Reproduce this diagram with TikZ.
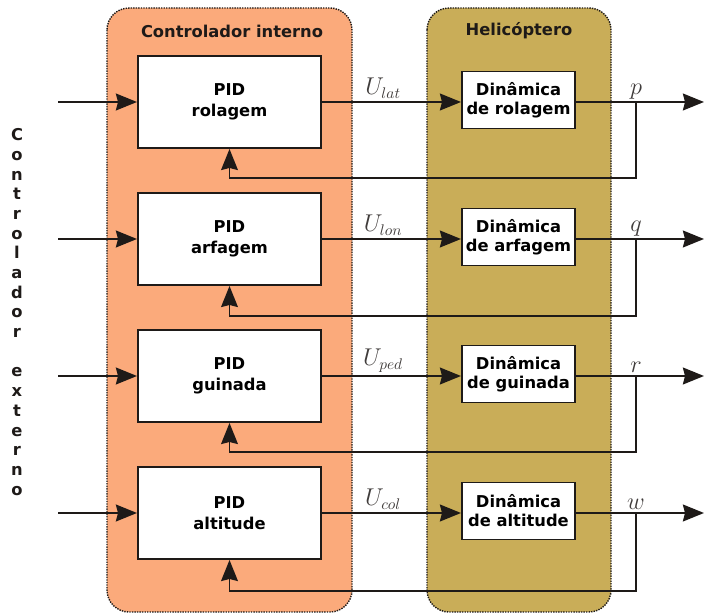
\documentclass[tikz,border=0pt]{standalone}
\usepackage{fontspec}
\setmainfont{DejaVu Sans}
\usetikzlibrary{arrows.meta, positioning}
\definecolor{CtrlOrange}{HTML}{FBAA7B}
\definecolor{HeliOlive}{HTML}{C9AD58}
\definecolor{LineDark}{HTML}{1E1A18}

\tikzset{
    group/.style={draw=LineDark, line width=1pt, dash pattern=on 1pt off 0.8pt, rounded corners=0.55cm},
    grouptitle/.style={font=\bfseries\fontsize{11.6}{13.5}\selectfont, text=LineDark},
    pidbox/.style={draw=LineDark, line width=1.4pt, fill=white, minimum width=4.575cm, minimum height=2.3cm, align=center, font=\bfseries\fontsize{11.6}{14.5}\selectfont},
    dynbox/.style={draw=LineDark, line width=1.4pt, fill=white, minimum width=2.825cm, minimum height=1.425cm, inner sep=1pt, align=center, font=\bfseries\fontsize{11.6}{13.5}\selectfont},
    sig/.style={draw=LineDark, line width=1.4pt, -{Stealth[length=15pt, width=12pt, inset=1.5pt]}},
    fb/.style={draw=LineDark, line width=1pt, -{Stealth[length=15pt, width=12pt, inset=1.5pt]}},
    lbl/.style={font=\fontsize{16}{18}\selectfont, inner sep=2pt, text=LineDark!85}
}

\begin{document}
\begin{tikzpicture}[x=0.025cm, y=-0.025cm]
    \useasboundingbox (0,0) rectangle (704,615);

    % Groups
    \draw[group, fill=CtrlOrange] (107,8) rectangle (352,612);
    \draw[group, fill=HeliOlive] (427,8) rectangle (611,612);
    \node[grouptitle] (tctrl) at (232,31) {Controlador interno};
    \node[grouptitle] (theli) at (519,31) {Helicóptero};

    % Outer controller label
    \node[font=\bfseries\fontsize{11.6}{14}\selectfont, align=center, text=LineDark] (ext) at (17,312)
        {C\\o\\n\\t\\r\\o\\l\\a\\d\\o\\r\\[14pt]e\\x\\t\\e\\r\\n\\o};

    % Row 1
    \node[pidbox] (pid1) at (229.5,102) {PID\\rolagem};
    \node[dynbox] (dyn1) at (518.5,100) {Dinâmica\\de rolagem};
    \coordinate (in1) at (58,102);
    \coordinate (out1) at (704,102);
    \coordinate (br1) at (636,102);
    \coordinate (fb1) at (636,178);
    \draw[sig] (in1) -- (pid1);
    \draw[sig] (pid1) -- node[lbl, above, xshift=-6pt] {$U_{lat}$} (dyn1.west |- pid1);
    \draw[sig] (dyn1.east |- br1) -- (out1);
    \node[lbl, above] (lp) at (br1) {$p$};
    \draw[fb] (br1) -- (fb1) -| (pid1.south);

    % Row 2
    \node[pidbox] (pid2) at (229.5,239) {PID\\arfagem};
    \node[dynbox] (dyn2) at (518.5,237) {Dinâmica\\de arfagem};
    \coordinate (in2) at (58,239);
    \coordinate (out2) at (704,239);
    \coordinate (br2) at (636,239);
    \coordinate (fb2) at (636,316);
    \draw[sig] (in2) -- (pid2);
    \draw[sig] (pid2) -- node[lbl, above, xshift=-6pt] {$U_{lon}$} (dyn2.west |- pid2);
    \draw[sig] (dyn2.east |- br2) -- (out2);
    \node[lbl, above] (lq) at (br2) {$q$};
    \draw[fb] (br2) -- (fb2) -| (pid2.south);

    % Row 3
    \node[pidbox] (pid3) at (229.5,376) {PID\\guinada};
    \node[dynbox] (dyn3) at (518.5,374) {Dinâmica\\de guinada};
    \coordinate (in3) at (58,376);
    \coordinate (out3) at (704,376);
    \coordinate (br3) at (636,376);
    \coordinate (fb3) at (636,452);
    \draw[sig] (in3) -- (pid3);
    \draw[sig] (pid3) -- node[lbl, above, xshift=-6pt] {$U_{ped}$} (dyn3.west |- pid3);
    \draw[sig] (dyn3.east |- br3) -- (out3);
    \node[lbl, above] (lr) at (br3) {$r$};
    \draw[fb] (br3) -- (fb3) -| (pid3.south);

    % Row 4
    \node[pidbox] (pid4) at (229.5,513) {PID\\altitude};
    \node[dynbox] (dyn4) at (518.5,511) {Dinâmica\\de altitude};
    \coordinate (in4) at (58,513);
    \coordinate (out4) at (704,513);
    \coordinate (br4) at (636,513);
    \coordinate (fb4) at (636,591);
    \draw[sig] (in4) -- (pid4);
    \draw[sig] (pid4) -- node[lbl, above, xshift=-6pt] {$U_{col}$} (dyn4.west |- pid4);
    \draw[sig] (dyn4.east |- br4) -- (out4);
    \node[lbl, above] (lw) at (br4) {$w$};
    \draw[fb] (br4) -- (fb4) -| (pid4.south);
\end{tikzpicture}
\end{document}
